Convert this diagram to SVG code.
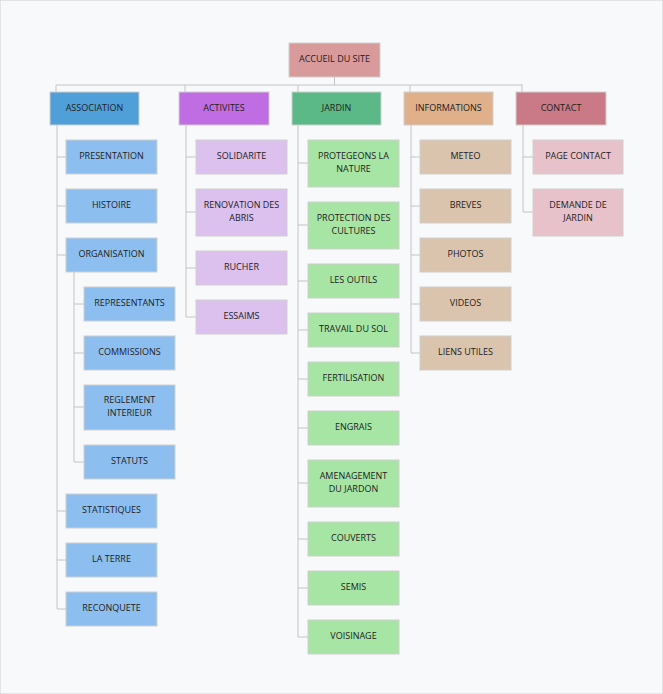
<svg xmlns="http://www.w3.org/2000/svg" width="663" height="694" viewBox="0 0 663 694">
<style>
rect{stroke:#cfcfcf;stroke-width:1}
text{font-family:"Open Sans",sans-serif;font-size:9px;fill:#222;text-anchor:middle;dominant-baseline:middle}
.c path{fill:none;stroke:#c4c4c4;stroke-width:1}
.r{fill:#d99a9c}.a{fill:#4f9fd8}.a2{fill:#8cbff0}.b{fill:#c06de3}.b2{fill:#dcc0ee}.j{fill:#5bb987}.j2{fill:#a7e5a5}.i{fill:#e0b08a}.i2{fill:#dbc4ad}.k{fill:#c97a86}.k2{fill:#e8c2ca}
</style>
<rect width="663" height="694" fill="#f8f9fb" stroke="none"/>
<g class="c">
<path d="M334.5 77V85M56 85H523M56 85V92M185 85V92M298 85V92M410 85V92M522 85V92"/>
<path d="M57 125V609M57 157H66M57 206H66M57 255H66M57 511H66M57 560H66M57 609H66"/>
<path d="M74 272V462M74 304H84M74 353H84M74 407H84M74 462H84"/>
<path d="M186 125V317M186 157H196M186 212H196M186 268H196M186 317H196"/>
<path d="M298 125V637M298 163H308M298 225H308M298 281H308M298 330H308M298 379H308M298 428H308M298 483H308M298 539H308M298 588H308M298 637H308"/>
<path d="M411 125V353M411 157H420M411 206H420M411 255H420M411 304H420M411 353H420"/>
<path d="M523 125V212M523 157H533M523 212H533"/>
</g>
<g id="root"><rect class="r" x="289" y="43" width="91" height="34"/><text x="334.5" y="60">ACCUEIL DU SITE</text></g>
<g id="association"><rect class="a" x="50" y="92" width="89" height="33"/><text x="94.5" y="109">ASSOCIATION</text></g>
<g id="activites"><rect class="b" x="179" y="92" width="90" height="33"/><text x="224" y="109">ACTIVITES</text></g>
<g id="jardin"><rect class="j" x="292" y="92" width="89" height="33"/><text x="336.5" y="109">JARDIN</text></g>
<g id="informations"><rect class="i" x="404" y="92" width="89" height="33"/><text x="448.5" y="109">INFORMATIONS</text></g>
<g id="contact"><rect class="k" x="516" y="92" width="90" height="33"/><text x="561" y="109">CONTACT</text></g>

<g id="presentation"><rect class="a2" x="66" y="140" width="91" height="34"/><text x="111.5" y="157">PRESENTATION</text></g>
<g id="histoire"><rect class="a2" x="66" y="189" width="91" height="34"/><text x="111.5" y="206">HISTOIRE</text></g>
<g id="organisation"><rect class="a2" x="66" y="238" width="91" height="34"/><text x="111.5" y="255">ORGANISATION</text></g>
<g id="representants"><rect class="a2" x="84" y="287" width="91" height="34"/><text x="129.5" y="304">REPRESENTANTS</text></g>
<g id="commissions"><rect class="a2" x="84" y="336" width="91" height="34"/><text x="129.5" y="353">COMMISSIONS</text></g>
<g id="reglement"><rect class="a2" x="84" y="385" width="91" height="45"/><text x="129.5" y="401">REGLEMENT</text><text x="129.5" y="414">INTERIEUR</text></g>
<g id="statuts"><rect class="a2" x="84" y="445" width="91" height="34"/><text x="129.5" y="462">STATUTS</text></g>
<g id="statistiques"><rect class="a2" x="66" y="494" width="91" height="34"/><text x="111.5" y="511">STATISTIQUES</text></g>
<g id="laterre"><rect class="a2" x="66" y="543" width="91" height="34"/><text x="111.5" y="560">LA TERRE</text></g>
<g id="reconquete"><rect class="a2" x="66" y="592" width="91" height="34"/><text x="111.5" y="609">RECONQUETE</text></g>

<g id="solidarite"><rect class="b2" x="196" y="140" width="91" height="34"/><text x="241.5" y="157">SOLIDARITE</text></g>
<g id="renovation"><rect class="b2" x="196" y="189" width="91" height="47"/><text x="241.5" y="206">RENOVATION DES</text><text x="241.5" y="219">ABRIS</text></g>
<g id="rucher"><rect class="b2" x="196" y="251" width="91" height="34"/><text x="241.5" y="268">RUCHER</text></g>
<g id="essaims"><rect class="b2" x="196" y="300" width="91" height="34"/><text x="241.5" y="317">ESSAIMS</text></g>

<g id="protegeons"><rect class="j2" x="308" y="140" width="91" height="47"/><text x="353.5" y="157">PROTEGEONS LA</text><text x="353.5" y="170">NATURE</text></g>
<g id="protection"><rect class="j2" x="308" y="202" width="91" height="47"/><text x="353.5" y="219">PROTECTION DES</text><text x="353.5" y="232">CULTURES</text></g>
<g id="outils"><rect class="j2" x="308" y="264" width="91" height="34"/><text x="353.5" y="281">LES OUTILS</text></g>
<g id="travail"><rect class="j2" x="308" y="313" width="91" height="34"/><text x="353.5" y="330">TRAVAIL DU SOL</text></g>
<g id="fertilisation"><rect class="j2" x="308" y="362" width="91" height="34"/><text x="353.5" y="379">FERTILISATION</text></g>
<g id="engrais"><rect class="j2" x="308" y="411" width="91" height="34"/><text x="353.5" y="428">ENGRAIS</text></g>
<g id="amenagement"><rect class="j2" x="308" y="460" width="91" height="47"/><text x="353.5" y="477">AMENAGEMENT</text><text x="353.5" y="490">DU JARDON</text></g>
<g id="couverts"><rect class="j2" x="308" y="522" width="91" height="34"/><text x="353.5" y="539">COUVERTS</text></g>
<g id="semis"><rect class="j2" x="308" y="571" width="91" height="34"/><text x="353.5" y="588">SEMIS</text></g>
<g id="voisinage"><rect class="j2" x="308" y="620" width="91" height="34"/><text x="353.5" y="637">VOISINAGE</text></g>

<g id="meteo"><rect class="i2" x="420" y="140" width="91" height="34"/><text x="465.5" y="157">METEO</text></g>
<g id="breves"><rect class="i2" x="420" y="189" width="91" height="34"/><text x="465.5" y="206">BREVES</text></g>
<g id="photos"><rect class="i2" x="420" y="238" width="91" height="34"/><text x="465.5" y="255">PHOTOS</text></g>
<g id="videos"><rect class="i2" x="420" y="287" width="91" height="34"/><text x="465.5" y="304">VIDEOS</text></g>
<g id="liens"><rect class="i2" x="420" y="336" width="91" height="34"/><text x="465.5" y="353">LIENS UTILES</text></g>

<g id="pagecontact"><rect class="k2" x="533" y="140" width="90" height="34"/><text x="578" y="157">PAGE CONTACT</text></g>
<g id="demande"><rect class="k2" x="533" y="189" width="90" height="47"/><text x="578" y="206">DEMANDE DE</text><text x="578" y="219">JARDIN</text></g>
</svg>
